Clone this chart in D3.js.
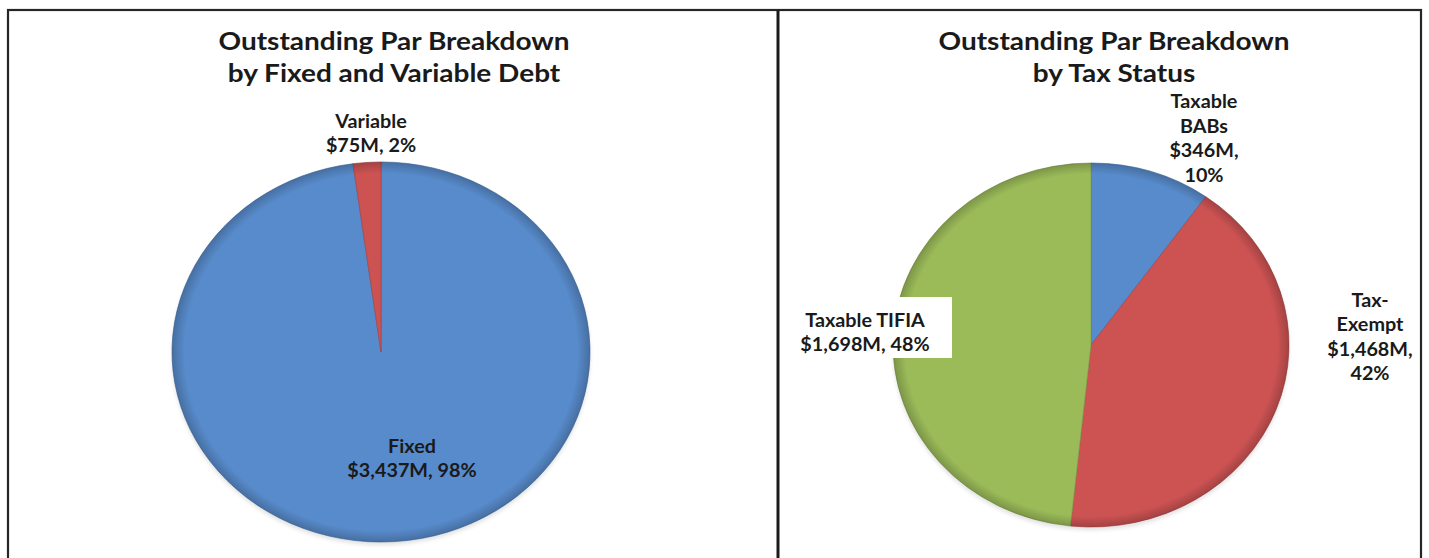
<!DOCTYPE html>
<html>
<head>
<meta charset="utf-8">
<script src="https://cdn.jsdelivr.net/npm/d3@7"></script>
<style>
  html, body { margin: 0; padding: 0; background: #fff; }
  svg { display: block; }
  text { font-family: Lato, "Open Sans", sans-serif; fill: #1a1a1a; }
</style>
</head>
<body>
<svg id="chart" width="1429" height="558"></svg>
<script>
// ---- Data ----
const leftTitle = ["Outstanding Par Breakdown", "by Fixed and Variable Debt"];
const leftCategories = ["Fixed", "Variable"];
const leftValues = [3437, 75];
const leftValueLabels = ["$3,437M", "$75M"];
const leftPercentLabels = ["98%", "2%"];

const rightTitle = ["Outstanding Par Breakdown", "by Tax Status"];
const rightCategories = ["Taxable BABs", "Tax-Exempt", "Taxable TIFIA"];
const rightValues = [346, 1468, 1698];
const rightValueLabels = ["$346M", "$1,468M", "$1,698M"];
const rightPercentLabels = ["10%", "42%", "48%"];

const leftColors = ["#588bcb", "#cd5353"];
const rightColors = ["#588bcb", "#cd5353", "#9bbb59"];

const svg = d3.select("#chart");

// frame
svg.append("rect").attr("x", 8).attr("y", 10).attr("width", 1413).attr("height", 560)
  .attr("fill", "none").attr("stroke", "#262626").attr("stroke-width", 2.2);
svg.append("line").attr("x1", 778).attr("x2", 778).attr("y1", 10).attr("y2", 558)
  .attr("stroke", "#1a1a1a").attr("stroke-width", 3);

const defs = svg.append("defs");
const shade = defs.append("radialGradient").attr("id", "shade")
  .attr("cx", "50%").attr("cy", "50%").attr("r", "50%");
shade.append("stop").attr("offset", "0%").attr("stop-color", "#000").attr("stop-opacity", 0);
shade.append("stop").attr("offset", "94%").attr("stop-color", "#000").attr("stop-opacity", 0);
shade.append("stop").attr("offset", "100%").attr("stop-color", "#000").attr("stop-opacity", 0.2);
const blur = defs.append("filter").attr("id", "soft").attr("x", "-10%").attr("y", "-10%")
  .attr("width", "120%").attr("height", "120%");
blur.append("feGaussianBlur").attr("stdDeviation", 2);

function drawPie(cfg) {
  const R = 100;
  // soft shadow
  svg.append("ellipse").attr("cx", cfg.cx).attr("cy", cfg.cy + 3).attr("rx", cfg.rx).attr("ry", cfg.ry)
    .attr("fill", "#000").attr("opacity", 0.12).attr("filter", "url(#soft)");
  const g = svg.append("g")
    .attr("transform", `translate(${cfg.cx},${cfg.cy}) scale(${cfg.rx / R},${cfg.ry / R})`);
  const pie = d3.pie().sort(null).value(d => d.value);
  const arc = d3.arc().innerRadius(0).outerRadius(R);
  const arcs = pie(cfg.data);
  g.selectAll("path.slice").data(arcs).enter().append("path")
    .attr("class", "slice")
    .attr("d", arc)
    .attr("fill", (d, i) => cfg.colors[i])
    .attr("stroke", (d, i) => d3.color(cfg.colors[i]).darker(0.6))
    .attr("stroke-width", 0.35);
  g.append("circle").attr("r", R).attr("fill", "url(#shade)").attr("pointer-events", "none");
}

function drawText(lines, x, y, lh, size, sx) {
  const t = svg.append("text").attr("text-anchor", "middle")
    .attr("font-size", size).attr("font-weight", "bold")
    .attr("transform", `translate(${x},${y}) scale(${sx},1)`);
  lines.forEach((l, i) => t.append("tspan").attr("x", 0).attr("y", i * lh).text(l));
}

function drawLabel(lines, x, y, lh, box) {
  if (box) {
    svg.append("rect").attr("x", box[0]).attr("y", box[1]).attr("width", box[2]).attr("height", box[3])
      .attr("fill", "#fff");
  }
  drawText(lines, x, y, lh, 18.5, 1.07);
}

// Left chart
drawText(leftTitle, 394, 50, 32, 25, 1.12);
drawPie({
  cx: 381, cy: 352, rx: 209, ry: 190,
  data: leftCategories.map((c, i) => ({ cat: c, value: leftValues[i] })),
  colors: leftColors
});
drawLabel([leftCategories[1], `${leftValueLabels[1]}, ${leftPercentLabels[1]}`], 371, 128, 24);
drawLabel([leftCategories[0], `${leftValueLabels[0]}, ${leftPercentLabels[0]}`], 412, 453, 24);

// Right chart
drawText(rightTitle, 1114, 50, 32, 25, 1.12);
drawPie({
  cx: 1091, cy: 345, rx: 198, ry: 182,
  data: rightCategories.map((c, i) => ({ cat: c, value: rightValues[i] })),
  colors: rightColors
});
drawLabel(["Taxable", "BABs", `${rightValueLabels[0]},`, rightPercentLabels[0]], 1204, 108, 24.6);
drawLabel(["Tax-", "Exempt", `${rightValueLabels[1]},`, rightPercentLabels[1]], 1370, 307, 24.5);
drawLabel([rightCategories[2], `${rightValueLabels[2]}, ${rightPercentLabels[2]}`], 865, 327, 24,
  [798, 297, 154, 61]);
</script>
</body>
</html>
